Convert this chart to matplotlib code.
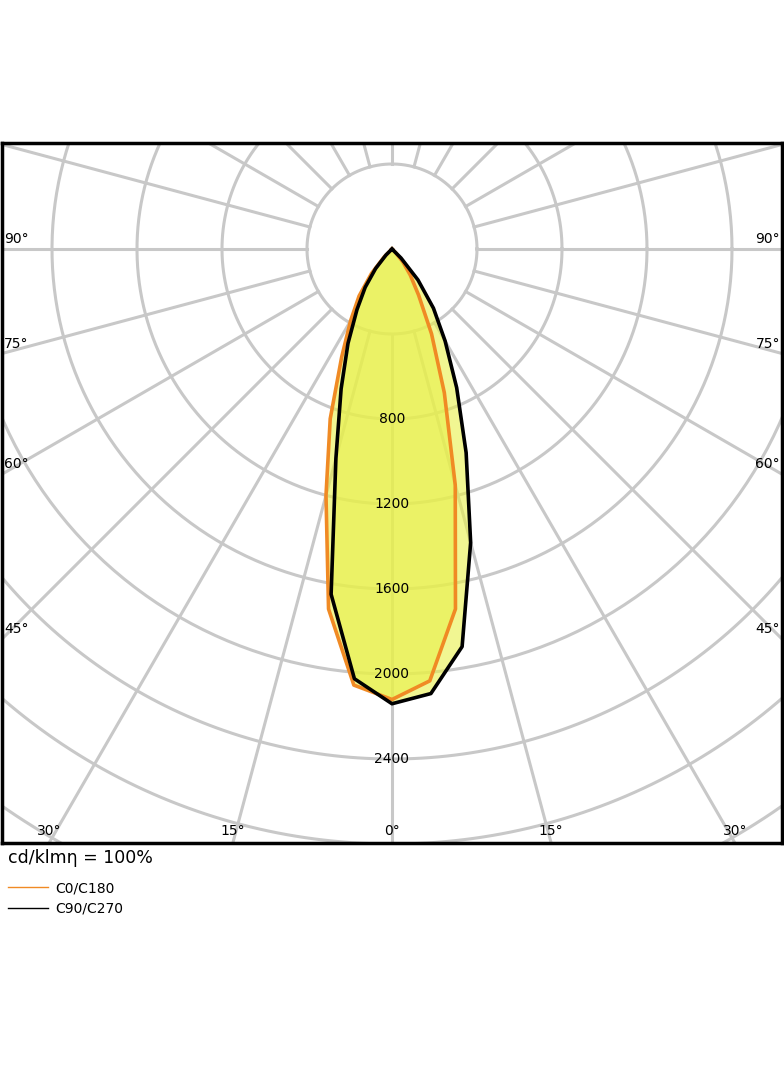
import numpy as np
import matplotlib
matplotlib.use("Agg")
import matplotlib.pyplot as plt

gamma = [0, 5, 10, 15, 20, 25, 30, 35, 40, 45, 50]
c0 = [2120, 2040, 1720, 1150, 720, 440, 250, 150, 80, 25, 0]
c180 = [2120, 2060, 1720, 1200, 850, 560, 390, 270, 150, 50, 0]
c90 = [2140, 2100, 1900, 1430, 1020, 720, 500, 340, 190, 60, 0]
c270 = [2140, 2030, 1650, 1020, 700, 490, 330, 220, 120, 40, 0]
ring_values = [400, 800, 1200, 1600, 2000, 2400, 2800, 3200, 3600]
ring_labels = ["800", "1200", "1600", "2000", "2400"]
angle_labels = [0, 15, 30, 45, 60, 75, 90]

W, H = 784, 1066
fig = plt.figure(figsize=(W/100, H/100), dpi=100)
# box: x 2..782, y 143..843 px ; center (392,249); 85px per 400 cd
s = 85/400
ax = fig.add_axes([2/W, (H-843)/H, 780/W, 700/H])
ax.set_xlim((2-392)/s, (782-392)/s)
ax.set_ylim(-(843-249)/s, (249-143)/s)
ax.set_xticks([]); ax.set_yticks([])
for sp in ax.spines.values():
    sp.set_linewidth(2.5); sp.set_color("black")

gc = "#c8c8c8"
t = np.linspace(0, 2*np.pi, 400)
for r in ring_values:
    ax.plot(r*np.cos(t), r*np.sin(t), color=gc, lw=2.2, zorder=1)
for a in range(0, 360, 15):
    ar = np.deg2rad(a)
    ax.plot([400*np.sin(ar), 6000*np.sin(ar)], [-400*np.cos(ar), -6000*np.cos(ar)],
            color=gc, lw=2.2, zorder=1)

def curve(right, left):
    g = np.deg2rad(np.array(gamma))
    gr = np.concatenate([-g[::-1], g[1:]])
    vals = np.concatenate([np.array(left)[::-1], np.array(right)[1:]])
    return vals*np.sin(gr), -vals*np.cos(gr)

xo, yo = curve(c0, c180)
xb, yb = curve(c90, c270)
ax.fill(xo, yo, color="#e8f04a", alpha=0.6, lw=0, zorder=2)
ax.fill(xb, yb, color="#e8f04a", alpha=0.6, lw=0, zorder=2)
ax.plot(np.append(xo, xo[0]), np.append(yo, yo[0]), color="#f08a24", lw=2.6, zorder=3)
ax.plot(np.append(xb, xb[0]), np.append(yb, yb[0]), color="black", lw=2.6, zorder=4)

for lab in ring_labels:
    ax.text(0, -int(lab), lab, ha="center", va="center", fontsize=10, zorder=5)

xl, xr = ax.get_xlim()
yb0 = ax.get_ylim()[0]
for a in angle_labels:
    ar = np.deg2rad(a)
    if a <= 30:
        x = -yb0*np.tan(ar)
        for sx in ([0] if a == 0 else [-x, x]):
            ax.text(sx, yb0 + 12/s, f"{a}°", ha="center", va="center", fontsize=10, zorder=5)
    else:
        y = xr/np.tan(ar) if a != 90 else 0
        ax.text(xl + 2/s, -y + 10/s, f"{a}°", ha="left", va="center", fontsize=10, zorder=5)
        ax.text(xr - 2/s, -y + 10/s, f"{a}°", ha="right", va="center", fontsize=10, zorder=5)

fig.text(8/W, 1-858/H, "cd/klmη = 100%", fontsize=12.5, va="center", ha="left")
fig.add_artist(plt.Line2D([8/W, 48/W], [1-887/H]*2, color="#f08a24", lw=1))
fig.add_artist(plt.Line2D([8/W, 48/W], [1-908/H]*2, color="black", lw=1))
fig.text(55/W, 1-888/H, "C0/C180", fontsize=10, va="center")
fig.text(55/W, 1-909/H, "C90/C270", fontsize=10, va="center")

fig.savefig("out.png", dpi=100)
